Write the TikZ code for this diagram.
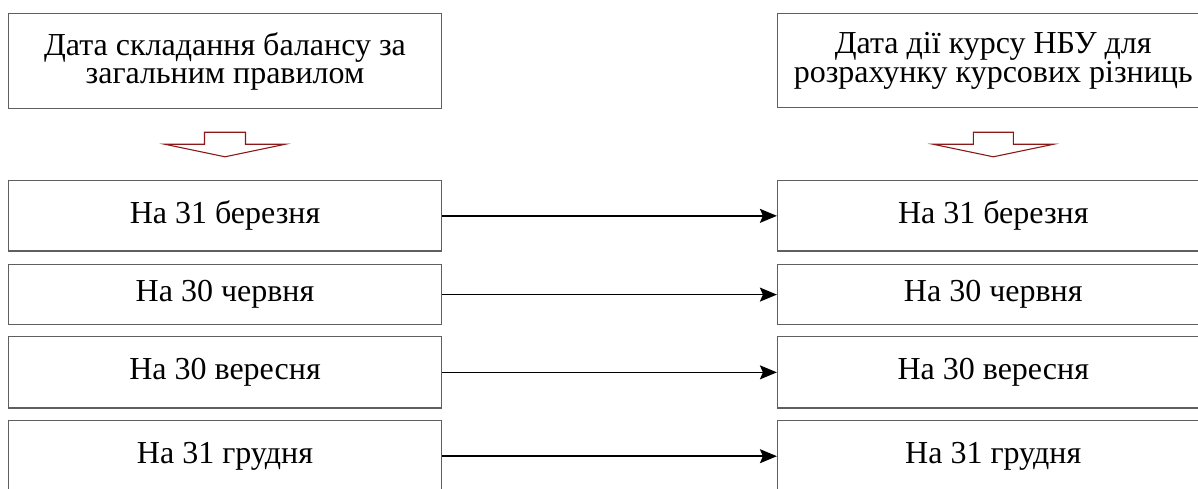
\documentclass[tikz,border=0pt]{standalone}
\usepackage{fontspec}
\setmainfont{Liberation Serif}
\usetikzlibrary{arrows.meta}
\definecolor{boxgray}{RGB}{95,95,95}
\definecolor{darkred}{RGB}{140,25,25}
\tikzset{
  box/.style={draw=boxgray, line width=1.2pt, rectangle, inner sep=0pt, anchor=center,
    align=center, font=\fontsize{32}{28}\selectfont},
  link/.style={draw=black, line width=1.5pt, -{Stealth[length=17pt,width=14pt,inset=3pt]}},
  blockarrow/.style={draw=darkred, line width=1.1pt, line join=miter}
}
\begin{document}
\begin{tikzpicture}[x=1pt,y=-1pt]
\useasboundingbox (0,0) rectangle (1198,489);
% header boxes
\node[box, minimum width=433pt, minimum height=95.5pt] (hl) at (225,61) {Дата складання балансу за\\загальним правилом};
\node[box, minimum width=431.5pt, minimum height=94.5pt] (hr) at (993.25,60.5) {Дата дії курсу НБУ для\\розрахунку курсових різниць};
% block arrows (yshift is in canvas units: positive = up)
\coordinate (al) at (225,144.3);
\coordinate (ar) at (993.3,144.3);
\draw[blockarrow] ([xshift=-60pt]al) -- ([xshift=-20.5pt]al) -- ([xshift=-20.5pt,yshift=12pt]al)
  -- ([xshift=20.5pt,yshift=12pt]al) -- ([xshift=20.5pt]al) -- ([xshift=60pt]al)
  -- ([yshift=-12.5pt]al) -- cycle;
\draw[blockarrow] ([xshift=-60pt]ar) -- ([xshift=-20pt]ar) -- ([xshift=-20pt,yshift=12pt]ar)
  -- ([xshift=20pt,yshift=12pt]ar) -- ([xshift=20pt]ar) -- ([xshift=60pt]ar)
  -- ([yshift=-12.5pt]ar) -- cycle;
% left column
\node[box, minimum width=433pt, minimum height=70.3pt] (l1) at (225,215.85) {На 31 березня};
\node[box, minimum width=433pt, minimum height=60.2pt] (l2) at (225,294.6) {На 30 червня};
\node[box, minimum width=433pt, minimum height=71.3pt] (l3) at (225,372.35) {На 30 вересня};
\node[box, minimum width=433pt, minimum height=71pt] (l4) at (225,456.2) {На 31 грудня};
% right column
\node[box, minimum width=431.5pt, minimum height=70.3pt] (r1) at (993.25,215.85) {На 31 березня};
\node[box, minimum width=431.5pt, minimum height=60.2pt] (r2) at (993.25,294.6) {На 30 червня};
\node[box, minimum width=431.5pt, minimum height=71.3pt] (r3) at (993.25,372.35) {На 30 вересня};
\node[box, minimum width=431.5pt, minimum height=71pt] (r4) at (993.25,456.2) {На 31 грудня};
% connectors
\draw[link] (l1.east) -- (r1.west);
\draw[link] (l2.east) -- (r2.west);
\draw[link] (l3.east) -- (r3.west);
\draw[link] (l4.east) -- (r4.west);
\end{tikzpicture}
\end{document}
